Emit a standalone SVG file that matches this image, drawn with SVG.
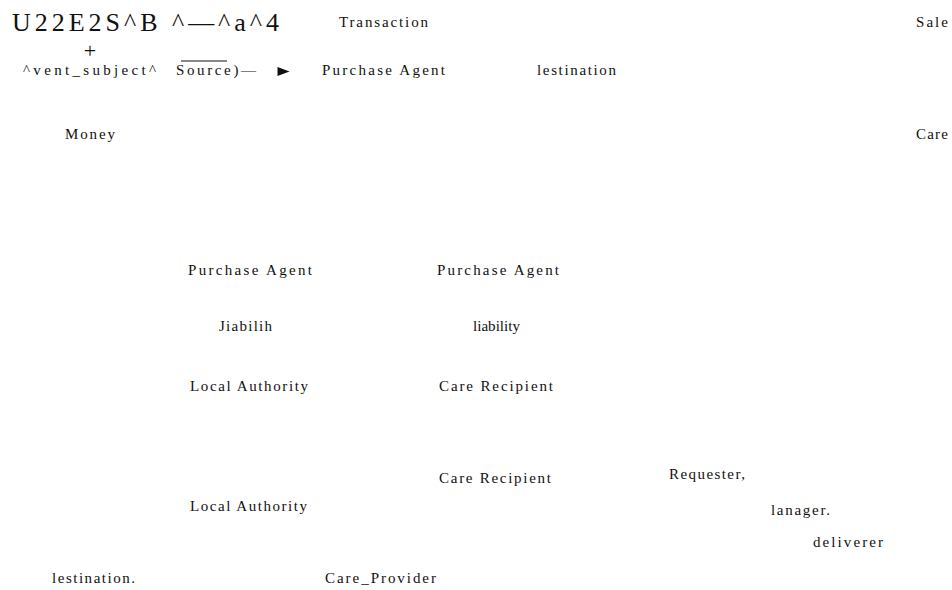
<svg xmlns="http://www.w3.org/2000/svg" width="952" height="590" viewBox="0 0 952 590">
<style>
text{font-family:"Liberation Serif","Times New Roman",serif;fill:#111}
.t{font-size:15px}
.s{font-size:15px}
.big{font-size:26px}
</style>
<rect width="952" height="590" fill="#fff"/>
<g id="title">
<text class="big" x="12" y="31" textLength="267" lengthAdjust="spacing">U22E2S^B ^—^a^4</text>
<text x="90" y="58" font-size="22" text-anchor="middle">+</text>
</g>
<g id="event-subject"><text class="s" x="23" y="75" textLength="133" lengthAdjust="spacing">^vent_subject^</text></g>
<g id="source"><text class="t" x="176" y="75" textLength="80" lengthAdjust="spacing">Source)—</text>
<line x1="181" y1="61" x2="227" y2="61" stroke="#111" stroke-width="1.2"/></g>
<g id="connectors"><polygon points="277.5,67 289.5,71.5 277.5,76" fill="#111"/></g>
<g id="transaction"><text class="s" x="339" y="27" textLength="89" lengthAdjust="spacing">Transaction</text></g>
<g id="purchase-agent-top"><text class="t" x="322" y="75" textLength="123" lengthAdjust="spacing">Purchase Agent</text></g>
<g id="destination-top"><text class="t" x="537" y="75" textLength="79" lengthAdjust="spacing">lestination</text></g>
<g id="sale"><text class="t" x="916" y="27" textLength="32" lengthAdjust="spacing">Sale</text></g>
<g id="money"><text class="t" x="65" y="139" textLength="50" lengthAdjust="spacing">Money</text></g>
<g id="care"><text class="t" x="916" y="139" textLength="32" lengthAdjust="spacing">Care</text></g>
<g id="purchase-agent-1"><text class="t" x="188" y="275" textLength="124" lengthAdjust="spacing">Purchase Agent</text></g>
<g id="purchase-agent-2"><text class="t" x="437" y="275" textLength="122" lengthAdjust="spacing">Purchase Agent</text></g>
<g id="liability-1"><text class="t" x="219" y="331" textLength="53" lengthAdjust="spacing">Jiabilih</text></g>
<g id="liability-2"><text x="473" y="331" font-size="14" textLength="47" lengthAdjust="spacingAndGlyphs">liability</text></g>
<g id="local-authority-1"><text class="t" x="190" y="391" textLength="118" lengthAdjust="spacing">Local Authority</text></g>
<g id="care-recipient-1"><text class="t" x="439" y="391" textLength="114" lengthAdjust="spacing">Care Recipient</text></g>
<g id="care-recipient-2"><text class="t" x="439" y="483" textLength="112" lengthAdjust="spacing">Care Recipient</text></g>
<g id="requester"><text class="t" x="669" y="479" textLength="76" lengthAdjust="spacing">Requester,</text></g>
<g id="local-authority-2"><text class="t" x="190" y="511" textLength="117" lengthAdjust="spacing">Local Authority</text></g>
<g id="manager"><text class="s" x="771" y="515" textLength="59" lengthAdjust="spacing">lanager.</text></g>
<g id="deliverer"><text class="t" x="813" y="547" textLength="70" lengthAdjust="spacing">deliverer</text></g>
<g id="destination-bottom"><text class="t" x="52" y="583" textLength="83" lengthAdjust="spacing">lestination.</text></g>
<g id="care-provider"><text class="t" x="325" y="583" textLength="111" lengthAdjust="spacing">Care_Provider</text></g>
</svg>
